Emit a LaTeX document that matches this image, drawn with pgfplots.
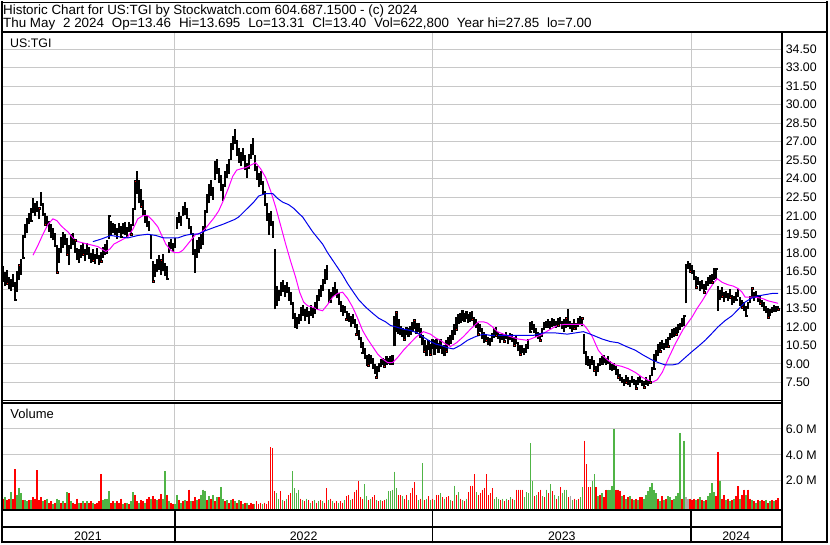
\documentclass[border=0pt]{standalone}
\usepackage{pgfplots}
\pgfplotsset{compat=1.18}
\usepackage{pgfplotstable}
\usepackage{fontspec}
\setmainfont{Liberation Sans}

\definecolor{gridgray}{RGB}{200,200,200}
\definecolor{volgreen}{RGB}{80,180,70}
\definecolor{volred}{RGB}{255,0,0}
\definecolor{volgray}{RGB}{170,170,170}
\definecolor{mashort}{RGB}{255,0,255}
\definecolor{malong}{RGB}{0,0,235}

% daily high-low range, x = trading day
\pgfplotstableread[row sep=\\]{
x lo hi\\
2 15.6 16.9\\ 4 15.3 16.4\\ 6 15.5 16.6\\ 8 15.1 16.0\\ 10 14.9 15.9\\ 12 15.2 16.3\\ 14 14.2 15.6\\ 16 14.8 16.5\\ 18 15.8 17.0\\ 20 16.2 17.5\\
22 17.6 19.4\\ 24 19.2 20.3\\ 26 19.6 20.8\\
28 20.3 21.2\\ 30 20.6 21.6\\ 32 21.2 22.4\\ 34 21.0 22.0\\ 36 21.3 22.2\\ 38 20.7 21.6\\ 40 21.8 22.9\\ 42 21.0 22.0\\
44 20.3 21.2\\ 46 20.2 21.0\\ 48 19.7 20.6\\ 50 19.3 20.3\\ 52 19.0 20.0\\ 54 18.5 19.6\\ 56 16.4 18.6\\ 58 17.2 18.4\\
60 18.0 19.3\\ 62 18.4 19.7\\ 64 18.6 19.5\\ 66 17.9 19.2\\ 68 17.0 18.6\\ 70 18.3 19.5\\ 72 18.6 19.6\\ 74 18.0 19.0\\ 76 17.4 18.4\\
78 17.2 18.3\\ 80 17.6 18.6\\ 82 17.9 18.8\\ 84 17.3 18.3\\ 86 17.8 18.8\\ 88 17.5 18.5\\ 90 17.2 18.0\\ 92 17.4 18.3\\ 94 17.1 17.9\\ 96 17.5 18.4\\ 98 17.0 17.8\\ 100 17.3 18.1\\ 102 17.6 18.5\\ 104 17.8 18.7\\ 106 17.9 19.0\\
108 19.1 21.0\\ 110 19.4 20.6\\ 112 19.6 20.4\\
114 19.4 20.3\\ 116 19.1 20.0\\ 118 19.6 20.4\\ 120 19.3 20.2\\ 122 19.5 20.4\\ 124 19.4 20.5\\ 126 19.2 20.1\\ 128 19.7 20.5\\ 130 19.5 20.3\\
132 20.2 21.6\\ 134 21.5 23.8\\ 136 22.8 24.6\\ 138 22.0 23.9\\ 140 21.8 23.2\\ 142 21.0 22.3\\ 144 20.4 21.5\\ 146 20.2 21.0\\ 148 19.8 20.6\\
150 17.5 19.4\\ 152 15.7 17.3\\ 154 16.0 17.1\\ 156 16.4 17.5\\ 158 16.6 17.8\\ 160 16.2 17.4\\ 162 16.5 17.9\\ 164 16.1 17.2\\ 166 15.9 16.9\\
168 18.0 18.9\\ 170 18.3 19.1\\ 172 18.1 18.8\\ 174 18.4 19.2\\
176 20.1 20.9\\ 178 20.4 21.3\\ 180 20.2 21.0\\ 182 21.0 21.8\\ 184 21.1 22.0\\ 186 20.7 21.6\\
188 19.9 20.8\\ 190 19.4 20.2\\ 192 17.8 19.6\\ 194 16.5 18.3\\ 196 17.6 19.0\\ 198 18.0 19.3\\ 200 18.3 19.5\\
202 18.8 20.2\\ 204 19.8 21.5\\ 206 21.2 22.8\\ 208 22.0 23.6\\ 210 22.6 23.8\\ 212 22.3 23.3\\
214 23.9 25.4\\ 216 24.4 25.6\\ 218 23.8 24.9\\ 220 23.0 24.3\\ 222 22.2 23.6\\ 224 23.5 24.6\\ 226 24.1 25.2\\ 228 24.4 25.6\\
230 25.5 26.8\\ 232 26.3 27.5\\ 234 26.8 28.0\\ 236 26.0 27.1\\ 238 25.3 26.5\\
240 25.0 26.2\\ 242 25.4 26.5\\ 244 24.7 25.9\\ 246 24.2 25.3\\ 248 24.8 26.0\\
250 25.6 26.8\\ 252 25.9 27.2\\
254 24.6 25.9\\ 256 23.9 25.0\\ 258 23.3 24.5\\ 260 23.6 24.6\\ 262 22.8 23.8\\
264 21.8 23.0\\ 266 20.6 22.0\\ 268 19.6 21.2\\ 270 20.2 21.4\\ 272 19.2 20.6\\
274 13.4 18.2\\ 276 13.7 15.3\\ 278 14.1 15.0\\ 280 14.6 15.6\\ 282 14.8 15.8\\ 284 14.4 15.4\\ 286 14.7 15.6\\ 288 14.2 15.2\\ 290 13.8 14.8\\
292 12.6 14.0\\ 294 12.0 13.1\\ 296 11.8 12.8\\ 298 12.2 13.0\\
300 12.6 13.6\\ 302 12.9 13.8\\ 304 12.5 13.4\\ 306 12.8 13.6\\ 308 12.4 13.3\\ 310 12.9 13.8\\ 312 12.7 13.5\\ 314 13.0 14.0\\
316 13.6 14.6\\ 318 14.1 15.1\\ 320 14.4 15.4\\ 322 14.9 15.9\\ 324 15.5 16.6\\ 326 15.8 17.0\\
328 13.9 15.1\\ 330 14.1 14.8\\ 332 14.4 15.2\\ 334 14.6 15.6\\ 336 14.3 15.1\\ 338 13.9 14.7\\
340 13.2 14.1\\ 342 12.9 13.8\\ 344 13.1 13.7\\ 346 12.6 13.3\\ 348 12.4 13.1\\
350 12.0 12.9\\ 352 12.2 13.0\\ 354 11.9 12.6\\ 356 11.4 12.2\\ 358 10.9 11.7\\ 360 10.3 11.2\\ 362 9.9 10.8\\
364 9.4 10.3\\ 366 8.8 9.7\\ 368 8.9 9.8\\ 370 9.0 9.7\\ 372 8.6 9.5\\ 374 8.2 9.0\\ 376 7.9 8.8\\ 378 8.3 9.1\\
380 8.7 9.4\\ 382 8.9 9.5\\ 384 8.8 9.4\\ 386 8.9 9.6\\ 388 9.0 9.5\\ 390 8.9 9.6\\ 392 9.0 9.7\\
394 10.4 12.9\\ 396 11.6 13.2\\ 398 11.4 12.6\\ 400 11.3 12.1\\
402 11.2 11.9\\ 404 11.0 11.8\\ 406 11.3 12.0\\ 408 11.2 11.9\\ 410 11.3 12.1\\
412 11.6 12.4\\ 414 11.8 12.5\\ 416 11.4 12.3\\ 418 11.6 12.3\\ 420 11.1 11.9\\
422 10.5 11.3\\ 424 10.0 10.9\\ 426 9.6 10.5\\ 428 10.1 10.9\\ 430 9.8 10.6\\ 432 10.2 11.0\\
434 9.7 10.9\\ 436 10.2 11.0\\ 438 9.9 10.7\\ 440 10.3 11.0\\ 442 9.8 10.4\\ 444 9.6 10.5\\ 446 10.0 10.9\\ 448 10.4 11.2\\
450 10.6 11.3\\ 452 10.9 11.7\\ 454 11.3 12.2\\
456 11.8 12.8\\ 458 12.2 13.0\\ 460 12.3 13.1\\ 462 12.5 13.3\\ 464 12.4 13.1\\ 466 12.6 13.3\\ 468 12.3 13.0\\ 470 12.4 13.2\\ 472 12.6 13.3\\
474 12.1 12.8\\ 476 11.9 12.6\\ 478 11.4 12.3\\ 480 11.6 12.2\\ 482 11.0 11.9\\
484 10.7 11.6\\ 486 10.9 11.4\\ 488 10.5 11.2\\ 490 10.4 11.1\\ 492 10.8 11.5\\
494 11.1 11.9\\ 496 11.3 12.0\\ 498 11.0 11.6\\ 500 10.7 11.4\\ 502 10.9 11.5\\ 504 10.8 11.4\\ 506 11.0 11.6\\ 508 10.6 11.3\\ 510 10.9 11.5\\ 512 10.8 11.4\\ 514 10.5 11.2\\ 516 10.6 11.3\\
518 10.0 10.8\\ 520 9.8 10.5\\ 522 9.9 10.5\\ 524 9.7 10.3\\ 526 9.9 10.6\\ 528 10.2 11.0\\
530 11.6 12.4\\ 532 11.7 12.5\\ 534 11.5 12.2\\ 536 11.2 11.9\\
538 11.0 11.6\\ 540 10.9 11.5\\ 542 11.2 11.9\\
544 11.7 12.4\\ 546 11.9 12.5\\ 548 12.0 12.6\\ 550 11.8 12.5\\ 552 12.0 12.7\\ 554 12.1 12.6\\ 556 11.9 12.5\\ 558 12.1 12.7\\ 560 12.2 12.8\\ 562 11.8 12.5\\
564 11.6 12.6\\ 566 11.9 12.7\\ 568 12.0 13.4\\ 570 11.8 12.5\\ 572 11.6 12.3\\ 574 11.9 12.6\\ 576 11.7 12.3\\ 578 12.0 12.7\\ 580 12.2 12.9\\ 582 12.1 12.7\\
584 9.8 11.4\\ 586 9.0 10.0\\ 588 8.8 9.6\\ 590 8.6 9.4\\
592 8.9 9.6\\ 594 8.5 9.3\\ 596 8.0 8.8\\ 598 8.3 9.1\\ 600 8.8 9.5\\ 602 9.0 9.6\\ 604 9.1 9.7\\ 606 8.9 9.5\\ 608 9.0 9.6\\
610 8.6 9.2\\ 612 8.4 9.0\\ 614 8.5 9.1\\ 616 8.1 8.8\\ 618 7.9 8.6\\
620 7.6 8.2\\ 622 7.4 7.9\\ 624 7.2 7.8\\ 626 7.5 8.1\\ 628 7.3 7.9\\ 630 7.1 7.7\\ 632 7.4 8.0\\ 634 7.3 7.8\\ 636 7.0 7.7\\ 638 7.3 7.9\\ 640 7.4 8.0\\ 642 7.2 7.7\\ 644 7.1 7.6\\ 646 7.3 7.9\\ 648 7.2 7.7\\ 650 7.5 8.1\\
652 8.0 8.7\\ 654 8.6 9.8\\ 656 9.2 10.1\\
658 9.6 10.6\\ 660 10.0 10.8\\ 662 10.2 10.9\\ 664 10.1 10.7\\ 666 10.3 11.0\\ 668 10.4 11.2\\
670 10.9 11.5\\ 672 11.1 11.8\\ 674 11.2 11.9\\ 676 11.4 12.0\\ 678 11.5 12.2\\ 680 11.7 12.3\\ 682 12.0 12.7\\ 684 12.1 12.9\\
686 13.9 17.1\\ 688 16.7 17.3\\ 690 16.5 17.2\\ 692 16.3 17.0\\
694 15.8 16.6\\ 696 15.2 16.1\\ 698 15.4 16.0\\ 700 14.9 15.7\\ 702 15.1 15.8\\ 704 14.8 15.5\\ 706 15.0 15.7\\ 708 15.3 16.0\\ 710 15.5 16.2\\ 712 15.6 16.3\\
714 15.8 16.8\\ 716 15.9 16.7\\ 718 13.3 15.3\\
720 14.2 15.0\\ 722 14.5 15.2\\ 724 14.0 14.8\\ 726 14.3 14.9\\ 728 14.1 14.7\\ 730 14.4 15.1\\ 732 13.8 14.6\\ 734 13.9 14.5\\ 736 14.2 14.8\\ 738 14.4 15.1\\
740 13.7 14.4\\ 742 13.6 14.2\\ 744 13.3 14.0\\ 746 12.9 13.7\\ 748 13.4 14.0\\
750 13.9 14.5\\ 752 14.3 15.1\\ 754 14.1 14.8\\ 756 14.3 14.9\\ 758 14.0 14.6\\ 760 13.9 14.5\\
762 13.6 14.2\\ 764 13.3 14.0\\ 766 13.1 13.7\\ 768 12.8 13.5\\ 770 12.9 13.4\\
772 13.1 13.6\\ 774 13.3 13.8\\ 776 13.2 13.7\\ 778 13.31 13.695\\
}\pricebars

% closing ticks drawn in red
\pgfplotstableread[row sep=\\]{
x y\\
6 15.5\\ 14 14.2\\ 18 17.0\\ 22 17.6\\ 30 20.6\\ 38 21.6\\ 44 20.3\\ 50 19.3\\ 56 16.4\\ 66 17.9\\ 74 19.0\\ 82 17.9\\ 92 17.4\\ 100 17.3\\
108 21.0\\ 120 19.3\\ 130 19.5\\ 134 23.8\\ 140 21.8\\ 146 20.2\\ 152 15.7\\ 160 17.4\\ 166 15.9\\ 176 20.1\\ 184 22.0\\ 194 16.5\\ 202 18.8\\
210 23.8\\ 218 23.8\\ 224 23.5\\ 230 26.8\\ 236 26.0\\ 246 24.2\\ 252 27.2\\ 260 23.6\\ 268 19.6\\ 274 18.2\\ 280 14.6\\ 288 14.2\\ 294 12.0\\
300 12.6\\ 308 12.4\\ 316 13.6\\ 324 16.6\\ 330 14.1\\ 338 13.9\\ 346 12.6\\ 356 11.4\\ 362 9.9\\ 368 8.9\\ 376 7.9\\ 384 8.8\\ 392 9.0\\
396 13.2\\ 404 11.0\\ 414 12.5\\ 424 10.0\\ 430 9.8\\ 440 10.3\\ 446 10.0\\ 456 11.8\\ 462 13.3\\ 472 12.6\\ 478 11.4\\ 486 10.9\\ 496 11.3\\
504 10.8\\ 514 10.5\\ 520 9.8\\ 530 11.6\\ 540 10.9\\ 548 12.0\\ 558 12.1\\ 566 12.7\\ 574 11.9\\ 582 12.7\\ 586 9.0\\ 594 8.5\\ 602 9.0\\
610 8.6\\ 618 7.9\\ 626 7.5\\ 636 7.0\\ 644 7.1\\ 650 7.5\\ 654 8.6\\ 660 10.0\\ 668 10.4\\ 676 11.4\\ 684 12.9\\ 690 16.5\\ 696 15.2\\
704 14.8\\ 712 15.6\\ 716 16.7\\ 722 14.5\\ 730 14.4\\ 736 14.2\\ 742 13.6\\ 746 12.9\\ 752 15.1\\ 760 13.9\\ 768 12.8\\ 774 13.3\\ 778 13.4\\
}\closeticks

% volume in millions of shares: down days
\pgfplotstableread[row sep=\\]{
x v\\
2 0.6\\ 6 0.5\\ 8 0.6\\ 12 0.6\\ 14 2.86\\ 22 0.5\\ 28 0.5\\ 32 0.7\\ 34 0.6\\ 36 2.8\\ 38 0.5\\ 40 0.7\\ 44 0.5\\ 48 0.3\\ 50 0.4\\
54 0.3\\ 60 0.3\\ 64 0.3\\ 68 1.0\\ 72 0.3\\ 74 0.2\\ 76 0.6\\ 80 0.3\\ 84 0.3\\ 88 0.3\\ 90 0.4\\ 94 0.2\\ 96 0.3\\ 98 0.4\\ 100 2.48\\
110 0.3\\ 112 0.4\\ 116 0.4\\ 118 0.3\\ 120 0.6\\ 124 0.3\\ 128 0.2\\ 134 0.9\\ 136 0.4\\ 140 0.5\\ 142 0.4\\ 146 0.6\\ 148 0.7\\ 152 0.8\\
154 0.6\\ 158 0.6\\ 160 0.95\\ 166 0.9\\ 170 0.3\\ 172 0.2\\ 178 0.5\\ 182 0.4\\ 186 0.4\\ 188 1.3\\ 192 0.4\\ 194 0.7\\ 198 0.6\\ 206 0.5\\
210 0.6\\ 214 0.4\\ 218 0.7\\ 224 0.4\\ 228 0.3\\ 232 0.6\\ 236 0.3\\ 240 0.4\\ 244 0.3\\ 248 0.1\\ 250 0.3\\ 252 0.2\\ 256 0.4\\ 258 0.2\\
260 0.3\\ 264 0.3\\ 266 0.2\\ 268 0.4\\ 270 4.6\\ 272 4.5\\ 274 1.2\\ 280 1.2\\ 284 0.4\\ 288 0.9\\ 290 1.0\\ 300 0.6\\ 304 0.4\\ 308 0.5\\
312 0.4\\ 316 0.3\\ 320 0.5\\ 324 0.3\\ 326 1.4\\ 330 0.6\\ 334 0.3\\ 336 0.4\\ 340 0.4\\ 342 0.3\\ 346 0.8\\ 348 0.9\\ 352 0.6\\ 354 1.1\\
356 1.3\\ 358 1.93\\ 360 0.7\\ 362 0.6\\ 368 0.5\\ 372 0.7\\ 374 0.9\\ 378 0.4\\ 382 0.4\\ 384 0.5\\ 398 0.9\\ 400 0.9\\ 404 0.6\\ 406 0.9\\
410 1.0\\ 412 1.45\\ 414 1.9\\ 416 0.9\\ 420 0.6\\ 424 0.5\\ 428 0.8\\ 432 0.6\\ 436 0.9\\ 438 0.9\\ 442 0.7\\ 446 0.7\\ 448 0.8\\ 452 0.4\\
456 0.9\\ 460 0.6\\ 464 0.4\\ 468 1.1\\ 470 1.6\\ 472 1.6\\ 474 2.48\\ 478 0.9\\ 480 1.0\\ 482 1.3\\ 484 1.4\\ 486 2.48\\ 488 0.9\\ 490 1.0\\
492 1.4\\ 500 0.5\\ 504 0.4\\ 508 0.5\\ 512 0.6\\ 516 1.3\\ 518 1.3\\ 520 1.3\\ 522 1.3\\ 534 0.8\\ 538 1.1\\ 540 1.3\\ 544 0.7\\ 548 1.0\\
552 1.2\\ 556 0.6\\ 560 1.5\\ 568 0.7\\ 574 0.6\\ 578 0.6\\ 584 5.1\\ 586 3.25\\ 588 1.5\\ 590 1.5\\ 596 1.5\\ 600 0.9\\ 604 0.7\\ 606 1.3\\
616 1.3\\ 618 1.3\\ 620 1.2\\ 624 0.9\\ 628 0.7\\ 632 0.6\\ 636 0.6\\ 640 0.7\\ 642 0.7\\ 658 0.6\\ 662 0.8\\ 666 0.6\\ 672 0.5\\ 682 0.6\\
690 0.6\\ 692 0.5\\ 694 0.6\\ 698 0.6\\ 702 0.5\\ 706 0.5\\ 716 0.8\\ 718 4.25\\ 722 0.6\\ 724 0.9\\ 728 0.6\\ 732 0.5\\ 736 0.8\\ 738 1.55\\
742 0.9\\ 744 1.3\\ 748 1.3\\ 750 0.6\\ 754 0.4\\ 758 0.5\\ 762 0.5\\ 764 0.4\\ 768 0.3\\ 772 0.5\\ 776 0.5\\ 778 0.62\\
}\voldown

% volume: up days
\pgfplotstableread[row sep=\\]{
x v\\
4 0.7\\ 10 1.1\\ 16 0.9\\ 18 1.45\\ 20 1.0\\ 24 0.5\\ 26 0.4\\ 30 0.5\\ 42 0.4\\ 46 0.6\\ 52 0.2\\ 56 0.6\\ 58 0.5\\ 62 0.4\\ 66 1.1\\
70 0.4\\ 78 0.3\\ 82 0.4\\ 86 0.4\\ 92 0.3\\ 102 0.5\\ 104 0.6\\ 106 0.6\\ 108 1.2\\ 114 0.3\\ 122 0.2\\ 126 0.3\\ 130 0.4\\ 132 1.1\\
138 0.3\\ 144 0.3\\ 150 0.6\\ 156 0.5\\ 162 0.6\\ 164 2.73\\ 168 0.4\\ 174 0.2\\ 176 0.9\\ 180 0.3\\ 184 0.5\\ 190 0.4\\ 196 0.5\\ 200 0.9\\
202 1.3\\ 204 1.2\\ 208 0.8\\ 212 0.9\\ 216 0.7\\ 220 1.5\\ 222 0.6\\ 226 0.5\\ 230 0.5\\ 234 0.4\\ 238 0.5\\ 242 0.2\\ 246 0.3\\ 254 0.2\\
262 0.2\\ 276 1.0\\ 278 0.6\\ 282 0.5\\ 286 0.6\\ 292 2.73\\ 294 1.4\\ 296 1.0\\ 298 1.3\\ 302 0.5\\ 306 0.6\\ 310 0.3\\ 314 0.5\\ 318 0.4\\
322 0.4\\ 328 0.5\\ 332 0.4\\ 338 0.3\\ 344 0.5\\ 350 0.5\\ 364 1.7\\ 366 0.8\\ 370 0.6\\ 376 0.5\\ 380 0.5\\ 386 0.6\\ 388 1.2\\ 390 1.2\\
392 1.3\\ 394 2.7\\ 396 1.4\\ 402 0.8\\ 408 0.5\\ 418 0.5\\ 422 3.35\\ 426 0.6\\ 430 0.5\\ 434 0.5\\ 440 1.0\\ 444 0.6\\ 450 0.5\\ 454 1.6\\
458 1.1\\ 462 0.5\\ 466 0.6\\ 476 1.1\\ 494 0.6\\ 496 0.7\\ 498 0.6\\ 502 0.6\\ 506 0.6\\ 510 0.7\\ 514 0.5\\ 524 0.7\\ 526 1.1\\ 528 1.0\\
530 4.9\\ 532 2.0\\ 536 0.9\\ 542 0.8\\ 546 1.3\\ 550 1.7\\ 554 0.9\\ 558 0.8\\ 562 1.0\\ 564 1.3\\ 566 1.3\\ 572 0.5\\ 576 0.5\\ 580 0.7\\
582 1.5\\ 592 2.0\\ 594 2.48\\ 598 0.8\\ 602 1.0\\ 608 1.3\\ 610 1.3\\ 612 1.6\\ 614 6.0\\ 622 0.8\\ 626 0.6\\ 630 0.8\\ 634 0.5\\ 638 0.5\\
644 0.6\\ 646 0.9\\ 648 1.2\\ 650 1.5\\ 652 1.8\\ 654 1.3\\ 656 1.0\\ 660 0.4\\ 664 0.5\\ 668 0.8\\ 670 0.7\\ 674 0.6\\ 676 0.8\\ 678 1.0\\
680 5.7\\ 684 5.1\\ 696 0.5\\ 700 0.7\\ 704 0.4\\ 708 0.8\\ 710 1.0\\ 712 1.8\\ 714 1.1\\ 720 2.0\\ 726 0.5\\ 730 0.4\\ 734 0.6\\ 740 0.6\\
746 0.9\\ 752 0.5\\ 756 0.3\\ 760 0.4\\ 766 0.5\\ 770 0.4\\ 774 0.4\\
}\volup

% volume: unchanged days
\pgfplotstableread[row sep=\\]{
x v\\
570 0.8\\ 686 0.7\\ 688 0.6\\
}\volflat

\pgfplotsset{
  panel/.style={
    scale only axis, anchor=south west, width=781bp,
    axis line style={draw=none}, major tick length=0pt,
    xmin=0, xmax=781, xtick={174,432,691}, xticklabels={,,},
    xmajorgrids, ymajorgrids, grid style={gridgray, line width=1bp},
    yticklabel pos=right,
    yticklabel style={anchor=west, inner sep=0pt, xshift=4.5bp, font=\fontsize{12.4bp}{14bp}\selectfont},
    /pgf/number format/assume math mode=true,
  },
  volbars/.style={draw=none, mark=none,
    error bars/.cd, y dir=minus, y explicit, error mark=none,
    error bar style={draw=#1, line width=1.6bp}},
}

\newcommand{\gap}{\hspace{7.9bp}}

\begin{document}
\begin{tikzpicture}
\begin{scope}[x=1bp,y=1bp]
\path[use as bounding box] (0,0) rectangle (830,543);
\end{scope}

% price panel
\begin{axis}[panel, at={(0bp,143bp)}, height=368bp,
  ymin=6.02, ymax=35.82,
  ytick={7.5,9,10.5,12,13.5,15,16.5,18,19.5,21,22.5,24,25.5,27,28.5,30,31.5,33,34.5},
  yticklabels={7.50,9.00,10.50,12.00,13.50,15.00,16.50,18.00,19.50,21.00,22.50,24.00,25.50,27.00,28.50,30.00,31.50,33.00,34.50}]
\addplot[draw=none, mark=none,
  error bars/.cd, y dir=plus, y explicit, error mark=none,
  error bar style={draw=black, line width=2.1bp}]
  table[x=x, y=lo, y error plus expr=\thisrow{hi}-\thisrow{lo}] {\pricebars};
\addplot[only marks, mark=square*, mark size=0.9bp, mark options={draw=none, fill=red}]
  table[x=x, y=y] {\closeticks};
\addplot[mashort, line width=1bp, mark=none] coordinates {
(32,17.8) (37,18.6) (42,19.5) (47,20.3) (52,20.75) (56,20.6) (60,20.2) (64,19.9) (67,19.7) (72,19.2)
(77,18.9) (82,18.8) (87,18.7) (92,18.6) (97,18.5) (101,18.3) (105,18.1) (109,18.3) (113,18.7) (120,19.0)
(127,19.3) (132,19.9) (137,20.75) (142,21.0) (147,21.0) (152,20.6) (157,20.1) (161,19.4) (165,18.7) (170,18.2)
(174,18.0) (178,18.0) (182,18.2) (186,18.6) (190,19.0) (195,19.5) (200,19.6) (204,19.9) (208,20.3) (213,20.8)
(218,21.4) (223,22.3) (228,23.3) (232,24.2) (236,24.7) (240,24.8) (245,24.9) (250,25.1) (255,25.3) (260,24.8)
(265,24.1) (270,23.0) (275,21.7) (280,20.2) (285,18.7) (290,17.3) (295,16.0) (299,14.8) (303,14.0) (307,13.7)
(312,13.6) (317,13.4) (322,13.3) (327,13.8) (332,14.4) (337,14.7) (342,14.8) (347,14.3) (352,13.6) (357,12.7)
(362,11.7) (367,11.0) (372,10.4) (377,9.8) (382,9.4) (387,9.1) (392,9.1) (397,9.5) (403,10.1) (410,10.7)
(416,11.2) (423,11.6) (430,11.4) (435,11.1) (440,10.9) (445,10.6) (450,10.4) (456,10.7) (463,11.2) (470,11.8)
(478,12.4) (483,12.4) (487,12.3) (492,12.0) (497,11.6) (503,11.4) (510,11.2) (518,11.0) (527,10.9) (533,11.1)
(540,11.3) (548,11.7) (557,12.1) (565,12.2) (575,12.2) (583,12.2) (587,11.8) (592,11.2) (598,10.1) (603,9.6)
(609,9.2) (615,8.9) (621,8.8) (628,8.6) (635,8.3) (642,7.9) (647,7.7) (652,7.5) (657,7.7) (662,8.3)
(668,9.4) (675,10.6) (683,11.8) (692,12.8) (697,13.5) (702,14.1) (708,14.9) (713,15.5) (717,15.9) (722,15.6)
(728,15.4) (733,15.3) (738,15.1) (742,14.8) (745,14.4) (750,14.4) (755,14.4) (762,14.3) (768,14.1) (773,14.0) (778,13.9)
};
\addplot[malong, line width=1bp, mark=none] coordinates {
(92,18.9) (100,19.1) (110,19.4) (118,19.3) (127,19.2) (137,19.4) (147,19.5) (155,19.4) (163,19.2) (170,19.2)
(177,19.2) (184,19.4) (190,19.5) (197,19.5) (205,19.8) (215,20.1) (222,20.3) (228,20.5) (234,20.7) (238,20.9)
(243,21.3) (248,21.7) (253,22.1) (258,22.6) (265,22.8) (272,22.8) (277,22.4) (282,22.1) (288,21.9) (293,21.6)
(298,21.2) (302,20.9) (307,20.3) (312,19.7) (317,19.2) (322,18.7) (327,18.0) (332,17.4) (337,16.8) (342,16.2)
(347,15.5) (352,14.9) (358,14.2) (365,13.6) (372,13.1) (378,12.7) (385,12.4) (390,12.1) (395,12.0) (403,11.8)
(410,11.7) (417,11.5) (424,11.1) (430,10.8) (435,10.6) (440,10.5) (447,10.3) (453,10.2) (460,10.5) (467,10.9)
(475,11.2) (483,11.4) (490,11.3) (500,11.3) (510,11.3) (517,11.3) (525,11.3) (533,11.3) (543,11.5) (555,11.5)
(567,11.4) (575,11.5) (583,11.6) (590,11.4) (596,11.2) (602,11.0) (610,10.8) (618,10.7) (626,10.4) (635,10.1)
(643,9.7) (652,9.3) (658,9.1) (665,8.9) (672,8.9) (678,9.0) (685,9.5) (692,10.0) (698,10.4) (705,10.9)
(711,11.4) (718,12.0) (725,12.5) (732,12.9) (738,13.4) (745,14.0) (751,14.3) (758,14.5) (765,14.6) (772,14.7) (778,14.7)
};
\end{axis}

% volume panel
\begin{axis}[panel, at={(0bp,33bp)}, height=108bp,
  ymin=-0.31, ymax=8.05,
  ytick={2,4,6}, yticklabels={2.0 M,4.0 M,6.0 M}]
\addplot[volbars=volred] table[x=x, y=v, y error minus expr=\thisrow{v}+0.4] {\voldown};
\addplot[volbars=volgreen] table[x=x, y=v, y error minus expr=\thisrow{v}+0.4] {\volup};
\addplot[volbars=volgray] table[x=x, y=v, y error minus expr=\thisrow{v}+0.4] {\volflat};
\end{axis}

\begin{scope}[x=1bp,y=1bp]
% frame
\draw[line width=2bp] (1,0) -- (1,543);
\draw[line width=2bp] (827,0) -- (827,543);
\draw[line width=1bp] (0,541.5) -- (828,541.5);
\draw[line width=2bp] (0,1) -- (828,1);
\draw[line width=2bp] (0,511.6) -- (828,511.6);
\draw[line width=2bp] (782,0) -- (782,511.6);
\draw[line width=1bp] (0,143.2) -- (782,143.2);
\draw[line width=1.6bp] (0,140.5) -- (782,140.5);
\draw[line width=2bp] (0,33) -- (782,33);
\draw[line width=2bp] (0,16) -- (782,16);
\foreach \xb in {174,432,691} \draw[line width=1.5bp] (\xb,0) -- (\xb,33);
% header
\begin{scope}[every node/.style={inner sep=0pt, anchor=base west, font=\fontsize{13.4bp}{15bp}\selectfont}]
\node at (2,529.7) {Historic Chart for US:TGI by Stockwatch.com 604.687.1500 - (c) 2024};
\node at (2,516.3) {Thu May\gap 2 2024\gap Op=13.46\gap Hi=13.695\gap Lo=13.31\gap Cl=13.40\gap Vol=622,800\gap Year hi=27.85\gap lo=7.00};
\end{scope}
% panel captions and years
\node[inner sep=0pt, anchor=base west, font=\fontsize{12.4bp}{14bp}\selectfont] at (9,496.3) {US:TGI};
\node[inner sep=0pt, anchor=base west, font=\fontsize{13bp}{14bp}\selectfont] at (9.3,124.7) {Volume};
\begin{scope}[every node/.style={inner sep=0pt, anchor=base, font=\fontsize{12.4bp}{14bp}\selectfont}]
\node at (87,3) {2021};
\node at (303,3) {2022};
\node at (561.5,3) {2023};
\node at (736,3) {2024};
\end{scope}
\end{scope}
\end{tikzpicture}
\end{document}
